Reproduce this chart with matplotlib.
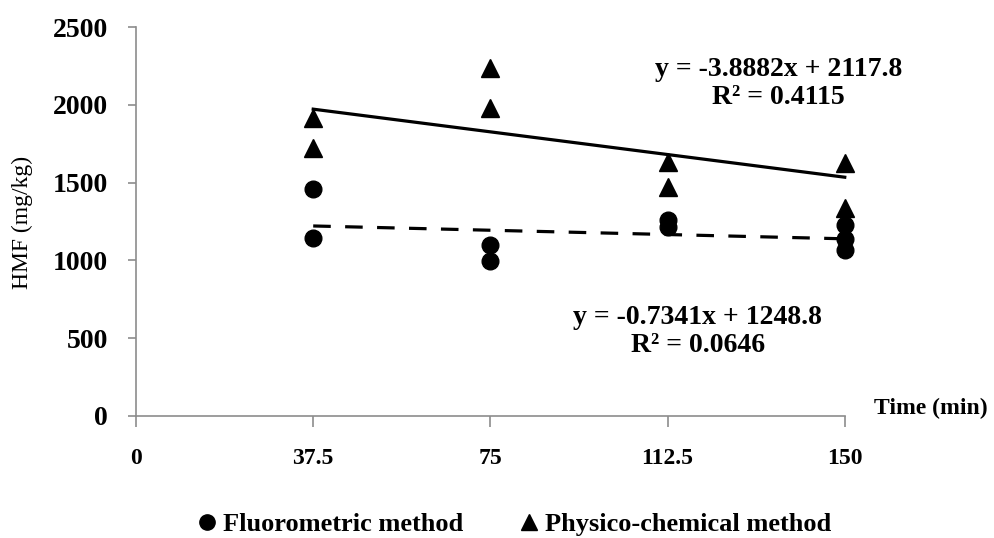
import numpy as np
import matplotlib
matplotlib.use("Agg")
import matplotlib.pyplot as plt
from matplotlib.lines import Line2D

plt.rcParams['font.family'] = ['Liberation Serif', 'DejaVu Serif']

# Data
fluoro_time = [37.5, 37.5, 75, 75, 112.5, 112.5, 150, 150, 150]
fluoro_hmf = [1459, 1144, 1099, 997, 1260, 1215, 1227, 1138, 1067]
phys_time = [37.5, 37.5, 75, 75, 112.5, 112.5, 150, 150]
phys_hmf = [1915, 1722, 2236, 1979, 1632, 1472, 1626, 1337]

# Trend line coefficients (as printed on chart)
fluoro_slope, fluoro_intercept, fluoro_r2 = -0.7341, 1248.8, 0.0646
phys_slope, phys_intercept, phys_r2 = -3.8882, 2117.8, 0.4115

x_ticks = [0, 37.5, 75, 112.5, 150]
x_tick_labels = ['0', '37.5', '75', '112.5', '150']
y_ticks = [0, 500, 1000, 1500, 2000, 2500]

fig = plt.figure(figsize=(9.95, 5.38), dpi=100)
ax = fig.add_axes([0.1367, 0.2268, 0.849 - 0.1367, 0.9498 - 0.2268])

ax.plot(fluoro_time, fluoro_hmf, 'o', color='black', ms=12, ls='none',
        zorder=3, clip_on=False)
ax.plot(phys_time, phys_hmf, '^', color='black', ms=13, ls='none',
        zorder=3, clip_on=False)

xt = np.array([37.5, 150])
ax.plot(xt, phys_slope * xt + phys_intercept, '-', color='black', lw=2.3,
        zorder=2, clip_on=False)
ax.plot(xt, fluoro_slope * xt + fluoro_intercept, color='black', lw=2.3,
        dashes=(5.5, 4.5), zorder=2, clip_on=False)

ax.set_xlim(0, 150)
ax.set_ylim(0, 2500)
ax.set_xticks(x_ticks)
ax.set_xticklabels(x_tick_labels)
ax.set_yticks(y_ticks)

for s in ['top', 'right']:
    ax.spines[s].set_visible(False)
for s in ['left', 'bottom']:
    ax.spines[s].set_color('#8c8c8c')
    ax.spines[s].set_linewidth(1.2)

ax.tick_params(axis='x', direction='out', length=8, width=1.2, color='#8c8c8c',
               pad=15, labelsize=17)
ax.tick_params(axis='y', direction='out', length=6, width=1.2, color='#8c8c8c',
               pad=14, labelsize=20)
for lab in ax.get_xticklabels() + ax.get_yticklabels():
    lab.set_fontweight('bold')

fig.text(22 / 995, 1 - 222 / 538, 'HMF (mg/kg)', fontsize=17, rotation=90,
         ha='center', va='center')

fig.text(931 / 995, 1 - 408 / 538, 'Time (min)', fontsize=17, fontweight='bold',
         ha='center', va='center')

eq_kw = dict(fontsize=20, fontweight='bold', ha='center', va='center')
ax.text(136.0, 2224, f'y = {phys_slope}x + {phys_intercept}', **eq_kw)
ax.text(136.0, 2045, f'R² = {phys_r2}', **eq_kw)
ax.text(118.9, 630, f'y = {fluoro_slope}x + {fluoro_intercept}', **eq_kw)
ax.text(118.9, 456, f'R² = {fluoro_r2}', **eq_kw)

handles = [Line2D([], [], marker='o', color='black', ls='none', ms=11),
           Line2D([], [], marker='^', color='black', ls='none', ms=12)]
fig.legend(handles, ['Fluorometric method', 'Physico-chemical method'],
           loc='center', bbox_to_anchor=(0.515, 1 - 524 / 538), ncol=2,
           frameon=False, prop={'weight': 'bold', 'size': 19},
           handletextpad=0.1, columnspacing=2.0, handlelength=1.0)

fig.savefig('out.png', dpi=100)
